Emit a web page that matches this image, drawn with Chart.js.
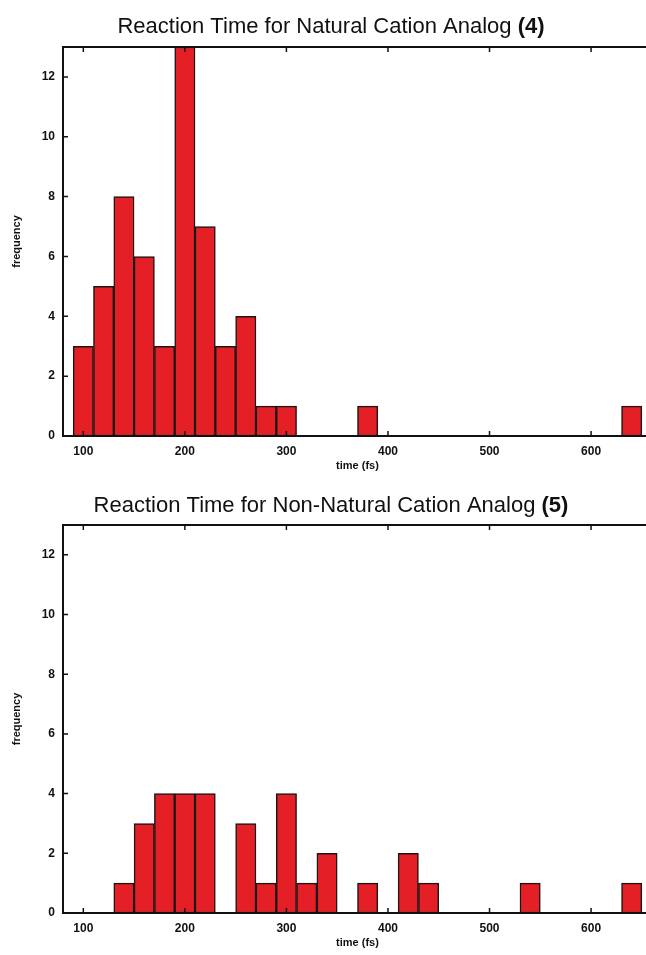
<!DOCTYPE html>
<html lang="en">
<head>
<meta charset="UTF-8">
<title>Reaction Time Histograms</title>
<script src="https://cdn.jsdelivr.net/npm/chart.js"></script>
<style>
  body { margin: 0; background: #fff; }
  .pagina { width: 646px; height: 955px; overflow: hidden; }
  .painel { width: 654px; height: 478px; }
  .painel.baixo { height: 477px; }
</style>
</head>
<body>
<div class="pagina">
  <div class="painel"><canvas id="graficoNatural"></canvas></div>
  <div class="painel baixo"><canvas id="graficoNaoNatural"></canvas></div>
</div>

<script>
// bin centres (fs), 20 fs wide bins
var tempoNatural = [100, 120, 140, 160, 180, 200, 220, 240, 260, 280, 300, 380, 640];
var freqNatural  = [3, 5, 8, 6, 3, 13, 7, 3, 4, 1, 1, 1, 1];

var tempoNaoNatural = [140, 160, 180, 200, 220, 260, 280, 300, 320, 340, 380, 420, 440, 540, 640];
var freqNaoNatural  = [1, 3, 4, 4, 4, 3, 1, 4, 1, 2, 1, 2, 1, 1, 1];

var tituloNatural    = ['Reaction Time for Natural Cation Analog ', '(4)'];
var tituloNaoNatural = ['Reaction Time for Non-Natural Cation Analog ', '(5)'];

var rotuloX = 'time (fs)';
var rotuloY = 'frequency';

var fonte = "'Liberation Sans', Arial, Helvetica, sans-serif";

// title with a bold tail, like the original figure
var tituloMisto = {
  id: 'tituloMisto',
  afterDraw: function (chart, args, opts) {
    var ctx = chart.ctx;
    var tam = opts.tamanho + 'px ';
    ctx.save();
    ctx.fillStyle = '#111';
    ctx.textBaseline = 'alphabetic';
    ctx.textAlign = 'left';
    ctx.font = 'normal ' + tam + fonte;
    var w1 = ctx.measureText(opts.partes[0]).width;
    ctx.font = 'bold ' + tam + fonte;
    var w2 = ctx.measureText(opts.partes[1]).width;
    var x = opts.x - (w1 + w2) / 2;
    ctx.font = 'normal ' + tam + fonte;
    ctx.fillText(opts.partes[0], x, opts.y);
    ctx.font = 'bold ' + tam + fonte;
    ctx.fillText(opts.partes[1], x + w1, opts.y);
    ctx.restore();
  }
};

// gnuplot style frame with inward ticks on all four sides
var moldura = {
  id: 'moldura',
  afterDatasetsDraw: function (chart) {
    var ctx = chart.ctx, a = chart.chartArea;
    var sx = chart.scales.x, sy = chart.scales.y;
    var t = 5;
    ctx.save();
    ctx.strokeStyle = '#111';
    ctx.lineWidth = 1.5;
    sx.ticks.forEach(function (tk) {
      var px = sx.getPixelForValue(tk.value);
      ctx.beginPath();
      ctx.moveTo(px, a.bottom); ctx.lineTo(px, a.bottom - t);
      ctx.moveTo(px, a.top); ctx.lineTo(px, a.top + t);
      ctx.stroke();
    });
    sy.ticks.forEach(function (tk) {
      var py = sy.getPixelForValue(tk.value);
      ctx.beginPath();
      ctx.moveTo(a.left, py); ctx.lineTo(a.left + t, py);
      ctx.moveTo(a.right, py); ctx.lineTo(a.right - t, py);
      ctx.stroke();
    });
    ctx.lineWidth = 2;
    ctx.strokeRect(a.left, a.top, a.right - a.left, a.bottom - a.top);
    ctx.restore();
  }
};

function histograma(id, tempos, freqs, titulo, yTitulo) {
  var pontos = tempos.map(function (t, i) { return { x: t, y: freqs[i] }; });
  new Chart(document.getElementById(id), {
    type: 'bar',
    data: {
      datasets: [{
        data: pontos,
        backgroundColor: '#e41f26',
        borderColor: '#1e1414',
        borderWidth: 1.5,
        borderSkipped: false,
        barPercentage: 1,
        categoryPercentage: 1
      }]
    },
    options: {
      responsive: true,
      maintainAspectRatio: false,
      animation: false,
      layout: { padding: { top: 47, right: 2, left: 0, bottom: 0 } },
      plugins: {
        legend: { display: false },
        tooltip: { enabled: false },
        tituloMisto: { partes: titulo, x: 331, y: yTitulo, tamanho: 22 }
      },
      scales: {
        x: {
          type: 'linear',
          offset: false,
          min: 80,
          max: 660,
          grid: { display: false, drawTicks: false, offset: false },
          border: { display: false },
          ticks: {
            stepSize: 100,
            includeBounds: false,
            padding: 8,
            maxRotation: 0,
            color: '#111',
            font: { family: fonte, size: 12, weight: 'bold' }
          },
          title: {
            display: true,
            text: rotuloX,
            color: '#111',
            padding: { top: 0, bottom: 5 },
            font: { family: fonte, size: 11, weight: 'bold' }
          },
          afterFit: function (s) { s.height = 42; }
        },
        y: {
          min: 0,
          max: 13,
          grid: { display: false, drawTicks: false },
          border: { display: false },
          ticks: {
            stepSize: 2,
            includeBounds: false,
            padding: 8,
            color: '#111',
            font: { family: fonte, size: 12, weight: 'bold' }
          },
          title: {
            display: true,
            text: rotuloY,
            color: '#111',
            padding: { top: 10, bottom: 0 },
            font: { family: fonte, size: 11, weight: 'bold' }
          },
          afterFit: function (s) { s.width = 63; }
        }
      }
    },
    plugins: [moldura, tituloMisto]
  });
}

histograma('graficoNatural', tempoNatural, freqNatural, tituloNatural, 33);
histograma('graficoNaoNatural', tempoNaoNatural, freqNaoNatural, tituloNaoNatural, 34);
</script>
</body>
</html>
